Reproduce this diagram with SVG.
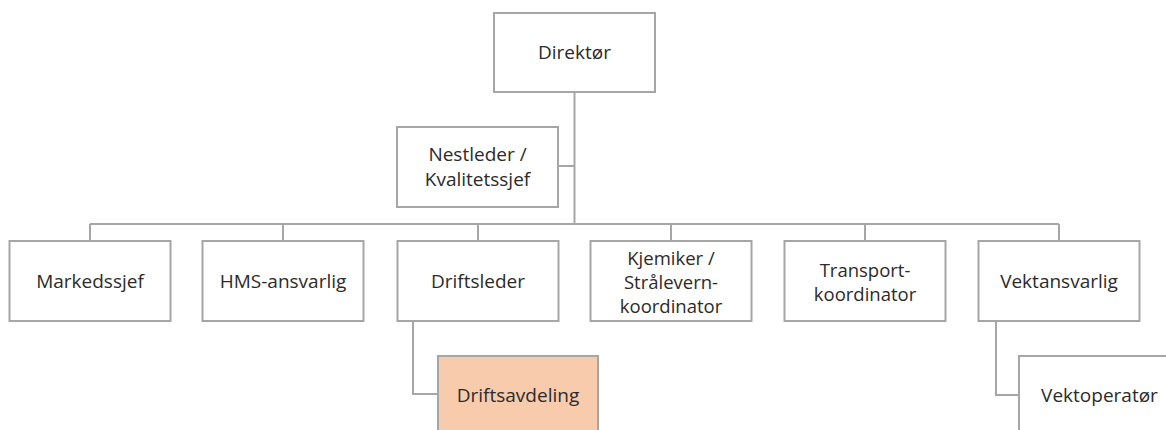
<svg xmlns="http://www.w3.org/2000/svg" width="1166" height="430" viewBox="0 0 1166 430">
<style>
.box{fill:#ffffff;stroke:#a6a6a6;stroke-width:2}
.hl{fill:#f8cbad;stroke:#a6a6a6;stroke-width:2}
.t{font-family:"Open Sans","Liberation Sans",sans-serif;font-size:19px;fill:#2b2b2b;text-anchor:middle;dominant-baseline:central}
.s{font-size:18.5px}
.c{fill:none;stroke:#a6a6a6;stroke-width:2}
</style>
<rect width="1166" height="430" fill="#ffffff"/>
<g id="connectors">
<path class="c" d="M574.5 92 V224"/>
<path class="c" d="M558 166 H574.5"/>
<path class="c" d="M90 224 H1059"/>
<path class="c" d="M90 224 V241"/>
<path class="c" d="M283 224 V241"/>
<path class="c" d="M478 224 V241"/>
<path class="c" d="M671 224 V241"/>
<path class="c" d="M865 224 V241"/>
<path class="c" d="M1059 224 V241"/>
<path class="c" d="M413 321 V394 H438"/>
<path class="c" d="M996 321 V395 H1019"/>
</g>
<g id="direktor">
<rect class="box" x="494" y="13" width="161" height="79"/>
<text class="t" x="574.5" y="52">Direktør</text>
</g>
<g id="nestleder">
<rect class="box" x="397" y="127" width="161" height="80"/>
<text class="t" x="477.5" y="154">Nestleder /</text>
<text class="t" x="477.5" y="179">Kvalitetssjef</text>
</g>
<g id="markedssjef">
<rect class="box" x="9.5" y="241" width="161" height="80"/>
<text class="t" x="90" y="281">Markedssjef</text>
</g>
<g id="hms">
<rect class="box" x="202.5" y="241" width="161" height="80"/>
<text class="t" x="283" y="281">HMS-ansvarlig</text>
</g>
<g id="driftsleder">
<rect class="box" x="397.5" y="241" width="161" height="80"/>
<text class="t" x="478" y="281">Driftsleder</text>
</g>
<g id="kjemiker">
<rect class="box" x="590.5" y="241" width="161" height="80"/>
<text class="t s" x="671" y="257">Kjemiker /</text>
<text class="t s" x="671" y="281">Strålevern-</text>
<text class="t s" x="671" y="305">koordinator</text>
</g>
<g id="transport">
<rect class="box" x="784.5" y="241" width="161" height="80"/>
<text class="t s" x="865" y="269">Transport-</text>
<text class="t s" x="865" y="293">koordinator</text>
</g>
<g id="vektansvarlig">
<rect class="box" x="978.5" y="241" width="161" height="80"/>
<text class="t" x="1059" y="281">Vektansvarlig</text>
</g>
<g id="driftsavdeling">
<rect class="hl" x="438" y="356" width="160" height="80"/>
<text class="t" x="518" y="395">Driftsavdeling</text>
</g>
<g id="vektoperator">
<rect class="box" x="1019" y="356" width="161" height="80"/>
<text class="t" x="1099.5" y="395">Vektoperatør</text>
</g>
</svg>
